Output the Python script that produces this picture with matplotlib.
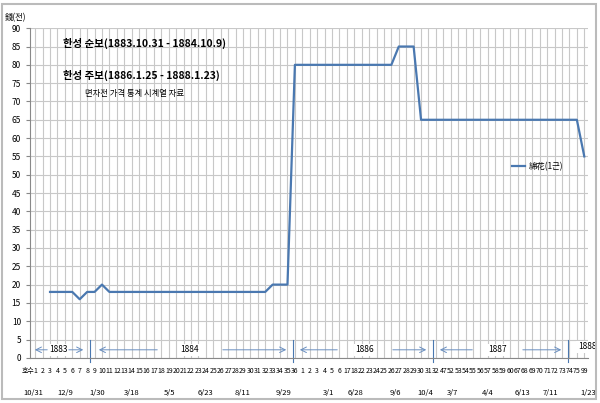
import matplotlib
matplotlib.use("Agg")
import matplotlib.pyplot as plt
from matplotlib.patches import Rectangle

plt.rcParams['font.family'] = ['Noto Sans CJK KR', 'DejaVu Sans']

values = [18, 18, 18, 18, 16, 18, 18, 20] + [18]*22 + [20, 20, 20] + [80]*14 + [85, 85, 85] + [65]*22 + [55]
tick_labels = ['호수'] + [str(i) for i in range(1, 37)] + \
    ['1', '2', '3', '4', '5', '6', '17', '18', '22', '23', '24', '25', '26', '27', '28', '29', '30', '31', '32',
     '47', '52', '53', '54', '55', '56', '57', '58', '59', '60', '67', '68', '69', '70', '71', '72', '73', '74', '75', '99']
date_labels = ['10/31', '12/9', '1/30', '3/18', '5/5', '6/23', '8/11', '9/29', '3/1', '6/28', '9/6', '10/4',
               '3/7', '4/4', '6/13', '7/11', '1/23']
date_px = [33, 65, 97, 132, 170, 205, 243, 283, 328, 356, 395, 425, 452, 488, 522, 550, 588]
years = ['1883', '1884', '1886', '1887', '1888']
year_px = [58, 190, 365, 497, 587]
sep_px = [90, 293, 433, 568]

def px2i(p):
    return (p - 50) / 7.42

fig = plt.figure(figsize=(6, 4.03), dpi=100)
fig.patches.append(Rectangle((0.004, 0.01), 0.99, 0.98, transform=fig.transFigure,
                             fill=False, edgecolor='#bbbbbb', lw=1.5))
ax = fig.add_axes([0.05, 0.112, 0.93, 0.818])
n = len(values)
ax.plot(range(n), values, color='#4a78b0', lw=1.6, label='綿花(1근)')
ax.set_xlim(-2.7, 72.5)
ax.set_ylim(0, 90)
ax.set_yticks(range(0, 91, 5))
ax.tick_params(axis='y', labelsize=6, length=3, color='#888888')
ax.set_xticks(range(-2, 73))
ax.set_xticklabels([])
ax.tick_params(axis='x', length=0)
ax.grid(True, color='#c8c8c8', lw=0.8)
ax.set_axisbelow(True)
for s in ['top', 'right']:
    ax.spines[s].set_visible(False)
ax.spines['left'].set_color('#888888')
ax.spines['bottom'].set_color('#888888')

for k, lab in enumerate(tick_labels):
    ax.text(k - 3, -3.5, lab, ha='center', va='center', fontsize=5, clip_on=False)
for lab, p in zip(date_labels, date_px):
    ax.text(px2i(p), -9.5, lab, ha='center', va='center', fontsize=5.5, clip_on=False)
for lab, p in zip(years, year_px):
    ax.text(px2i(p), 2.2 if lab != '1888' else 3, lab, ha='center', va='center', fontsize=6,
            bbox=dict(facecolor='white', edgecolor='none', pad=1))
for p in sep_px:
    ax.plot([px2i(p)]*2, [-1, 5], color='#4a78b0', lw=0.8, clip_on=False)
arrows = [(32, 50, -1), (66, 86, 1), (96, 160, -1), (220, 289, 1), (297, 340, -1), (390, 429, 1),
          (437, 475, -1), (520, 564, 1)]
for a, b, d in arrows:
    x0, x1 = px2i(a), px2i(b)
    if d > 0:
        ax.annotate('', xy=(x1, 2.2), xytext=(x0, 2.2),
                    arrowprops=dict(arrowstyle='->', color='#6a8fc0', lw=0.7))
    else:
        ax.annotate('', xy=(x0, 2.2), xytext=(x1, 2.2),
                    arrowprops=dict(arrowstyle='->', color='#6a8fc0', lw=0.7))

fig.text(0.008, 0.955, '錢(전)', fontsize=6, ha='left', va='center')
fig.text(0.105, 0.893, '한성 순보(1883.10.31 - 1884.10.9)', fontsize=7.5, weight='bold', ha='left', va='center')
fig.text(0.105, 0.814, '한성 주보(1886.1.25 - 1888.1.23)', fontsize=7.5, weight='bold', ha='left', va='center')
fig.text(0.142, 0.768, '면자전 가격 통계 시계열 자료', fontsize=6, ha='left', va='center')
ax.legend(loc='center left', bbox_to_anchor=(0.85, 0.58), frameon=False, fontsize=6,
          handlelength=1.6, handletextpad=0.4)
fig.savefig('out.png', dpi=100)
